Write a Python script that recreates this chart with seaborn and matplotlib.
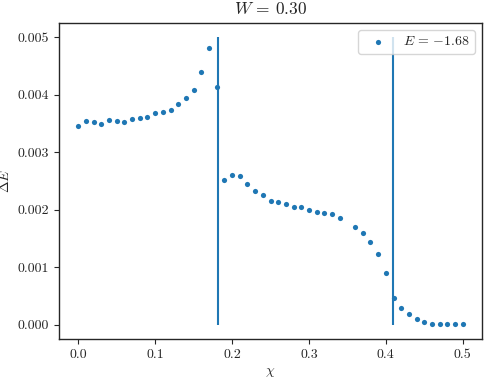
import numpy as np
import pandas as pd
import seaborn as sns
import matplotlib.pyplot as plt

# data (chi steps of 0.01, 0.35 missing)
chi = [0.00, 0.01, 0.02, 0.03, 0.04, 0.05, 0.06, 0.07, 0.08, 0.09,
       0.10, 0.11, 0.12, 0.13, 0.14, 0.15, 0.16, 0.17, 0.18,
       0.19, 0.20, 0.21, 0.22, 0.23, 0.24, 0.25, 0.26, 0.27, 0.28, 0.29,
       0.30, 0.31, 0.32, 0.33, 0.34, 0.36, 0.37, 0.38, 0.39,
       0.40, 0.41, 0.42, 0.43, 0.44, 0.45, 0.46, 0.47, 0.48, 0.49, 0.50]
delta_e = [3.45, 3.54, 3.52, 3.49, 3.56, 3.55, 3.52, 3.58, 3.59, 3.61,
           3.68, 3.69, 3.74, 3.83, 3.95, 4.08, 4.39, 4.81, 4.13,
           2.51, 2.60, 2.59, 2.45, 2.32, 2.25, 2.15, 2.13, 2.09, 2.05, 2.05,
           2.00, 1.96, 1.94, 1.92, 1.85, 1.70, 1.60, 1.43, 1.23,
           0.90, 0.46, 0.28, 0.19, 0.10, 0.04, 0.012, 0.004, 0.003, 0.003, 0.003]
delta_e = [v * 1e-3 for v in delta_e]
transitions = [0.1823, 0.409]
line_top = 0.005

df = pd.DataFrame({'chi': chi, 'dE': delta_e})

sns.set_style('ticks')
plt.rcParams.update({
    'font.family': 'serif',
    'font.serif': ['cmr10'],
    'mathtext.fontset': 'cm',
    'axes.formatter.use_mathtext': True,
    'axes.unicode_minus': False,
    'axes.edgecolor': '#262626',
    'axes.linewidth': 1.0,
})

fig = plt.figure(figsize=(4.89, 3.80), dpi=100)
ax = fig.add_axes([0.1207, 0.108, 0.865, 0.832])

sns.scatterplot(data=df, x='chi', y='dE', ax=ax, s=14, linewidth=0,
                color='#1f77b4', label=r'$E\,=\,{-1.68}$')
ax.vlines(transitions, 0, line_top, color='#1f77b4', linewidth=1.5)

ax.set_title(r'$W\,=\,0.30$', fontsize=12.5)
ax.set_xlabel(r'$\chi$', fontsize=10)
ax.set_ylabel(r'$\Delta E$', fontsize=10)
ax.tick_params(labelsize=10, direction='out', length=3.5)
ax.set_xticks([0.0, 0.1, 0.2, 0.3, 0.4, 0.5])
ax.set_yticks([0.000, 0.001, 0.002, 0.003, 0.004, 0.005])
ax.set_yticklabels(['0.000', '0.001', '0.002', '0.003', '0.004', '0.005'])
ax.set_xticklabels(['0.0', '0.1', '0.2', '0.3', '0.4', '0.5'])
ax.margins(x=0.05, y=0.05)
ax.legend(loc='upper right', fontsize=10, frameon=True)

fig.savefig('out.png', dpi=100)
